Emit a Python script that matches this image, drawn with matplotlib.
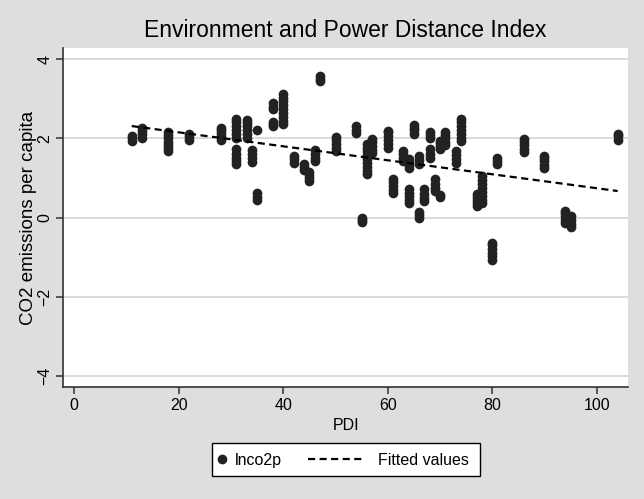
import numpy as np
import matplotlib
matplotlib.use('Agg')
import matplotlib.pyplot as plt
from matplotlib.lines import Line2D
from matplotlib.patches import Rectangle

plt.rcParams['font.family'] = ['Liberation Sans', 'DejaVu Sans']

##Data (PDI value -> yearly lnco2p values)
clusters = [
	(11, [1.93, 2.0, 2.06]),
	(13, [2.01, 2.1, 2.18, 2.27]),
	(18, [1.67, 1.75, 1.83, 1.92, 2.0, 2.08, 2.17]),
	(22, [1.97, 2.04, 2.1]),
	(28, [1.97, 2.05, 2.13, 2.2, 2.27]),
	(31, [2.01, 2.1, 2.2, 2.3, 2.4, 2.48, 1.34, 1.42, 1.5, 1.6, 1.72]),
	(33, [2.01, 2.1, 2.2, 2.3, 2.38, 2.46]),
	(34, [1.4, 1.5, 1.6, 1.7]),
	(35, [2.22, 0.44, 0.52, 0.61]),
	(38, [2.73, 2.8, 2.9, 2.31, 2.36, 2.42]),
	(40, [2.35, 2.45, 2.55, 2.65, 2.75, 2.85, 2.95, 3.03, 3.11]),
	(42, [1.38, 1.47, 1.56]),
	(44, [1.21, 1.28, 1.35]),
	(45, [0.92, 1.0, 1.07, 1.14]),
	(46, [1.42, 1.5, 1.6, 1.7]),
	(47, [3.44, 3.51, 3.58]),
	(50, [1.67, 1.75, 1.85, 1.95, 2.04]),
	(54, [2.14, 2.22, 2.31]),
	(55, [-0.12, -0.05, 0.0]),
	(56, [1.09, 1.18, 1.27, 1.37, 1.47, 1.57, 1.67, 1.76, 1.85]),
	(57, [1.62, 1.7, 1.8, 1.9, 1.98]),
	(60, [1.76, 1.85, 1.95, 2.05, 2.15, 2.19]),
	(61, [0.62, 0.7, 0.8, 0.9, 0.97]),
	(63, [1.42, 1.5, 1.6, 1.68]),
	(64, [1.25, 1.32, 1.4, 1.47, 0.37, 0.45, 0.55, 0.63, 0.71]),
	(65, [2.12, 2.2, 2.27, 2.34]),
	(66, [1.36, 1.45, 1.56, -0.01, 0.07, 0.14]),
	(67, [0.41, 0.5, 0.6, 0.71]),
	(68, [2.01, 2.08, 2.15, 1.5, 1.6, 1.72]),
	(69, [0.66, 0.75, 0.85, 0.97]),
	(70, [0.52, 0.58, 1.72, 1.8, 1.87, 1.93]),
	(71, [1.84, 1.92, 2.0, 2.08, 2.15]),
	(73, [1.38, 1.47, 1.57, 1.68]),
	(74, [1.93, 2.0, 2.1, 2.2, 2.3, 2.4, 2.48]),
	(77, [0.29, 0.37, 0.45, 0.52, 0.59]),
	(78, [0.37, 0.45, 0.55, 0.65, 0.75, 0.85, 0.95, 1.05]),
	(80, [-1.06, -0.98, -0.9, -0.8, -0.7, -0.63]),
	(81, [1.36, 1.43, 1.5]),
	(86, [1.65, 1.73, 1.82, 1.9, 1.98]),
	(90, [1.25, 1.33, 1.42, 1.5, 1.56]),
	(94, [-0.14, -0.05, 0.05, 0.12, 0.17]),
	(95, [-0.24, -0.15, -0.05, 0.04]),
	(104, [1.97, 2.05, 2.12]),
]

pdi = []
lnco2p = []
for x, ys in clusters:
	for y in ys:
		pdi.append(x)
		lnco2p.append(y)

#Fitted line endpoints
fit_x = [11, 104]
fit_y = [2.31, 0.67]

xticks = [0, 20, 40, 60, 80, 100]
yticks = [-4, -2, 0, 2, 4]
legend_labels = ['lnco2p', 'Fitted values']

##Figure
bg = '#dedede'
dotcol = '#222222'
msize = 7
W, H = 644., 499.
fig = plt.figure(figsize=(6.44, 4.99), dpi=100)
fig.patch.set_facecolor(bg)
ax = fig.add_axes([0.0983, 0.225, 0.877, 0.678])
ax.set_facecolor('white')

ax.set_xlim(-2.1, 106)
ax.set_ylim(-4.27, 4.27)

for y in yticks:
	ax.axhline(y, color='#d4d4d4', linewidth=1.2, zorder=0)

ax.plot(pdi, lnco2p, linestyle='none', marker='o', markersize=msize, color=dotcol, markeredgewidth=0, zorder=2)
ax.plot(fit_x, fit_y, color='black', linewidth=1.6, dashes=(3.2, 2.0), zorder=3)

#Axes styling
for side in ['top', 'right']:
	ax.spines[side].set_visible(False)
for side in ['left', 'bottom']:
	ax.spines[side].set_color('#333333')
	ax.spines[side].set_linewidth(1.2)

ax.set_xticks(xticks)
ax.set_yticks(yticks)
ax.tick_params(axis='both', direction='out', length=5, width=1.1, color='#333333', labelsize=11.5, pad=3)
plt.setp(ax.get_yticklabels(), rotation=90, va='center')

ax.set_xlabel('PDI', fontsize=11.5, labelpad=4)
ax.set_ylabel('CO2 emissions per capita', fontsize=13.5, labelpad=0)
ax.set_title('Environment and Power Distance Index', fontsize=16.5, pad=8)

##Legend (drawn by hand, Stata style)
ly = 1 - 459/H
fig.patches.append(Rectangle((212/W, 1 - 476/H), 268/W, 33/H, transform=fig.transFigure,
	facecolor='white', edgecolor='black', linewidth=1.0))
fig.lines.append(Line2D([222/W], [ly], transform=fig.transFigure, linestyle='none',
	marker='o', markersize=msize, color=dotcol, markeredgewidth=0))
fig.text(235/W, ly, legend_labels[0], fontsize=11.5, va='center_baseline', ha='left')
fig.lines.append(Line2D([308/W, 362/W], [ly, ly], transform=fig.transFigure,
	color='black', linewidth=1.6, dashes=(3.2, 2.0)))
fig.text(378/W, ly, legend_labels[1], fontsize=11.5, va='center_baseline', ha='left')

plt.savefig('out.png', dpi=100, facecolor=bg)
